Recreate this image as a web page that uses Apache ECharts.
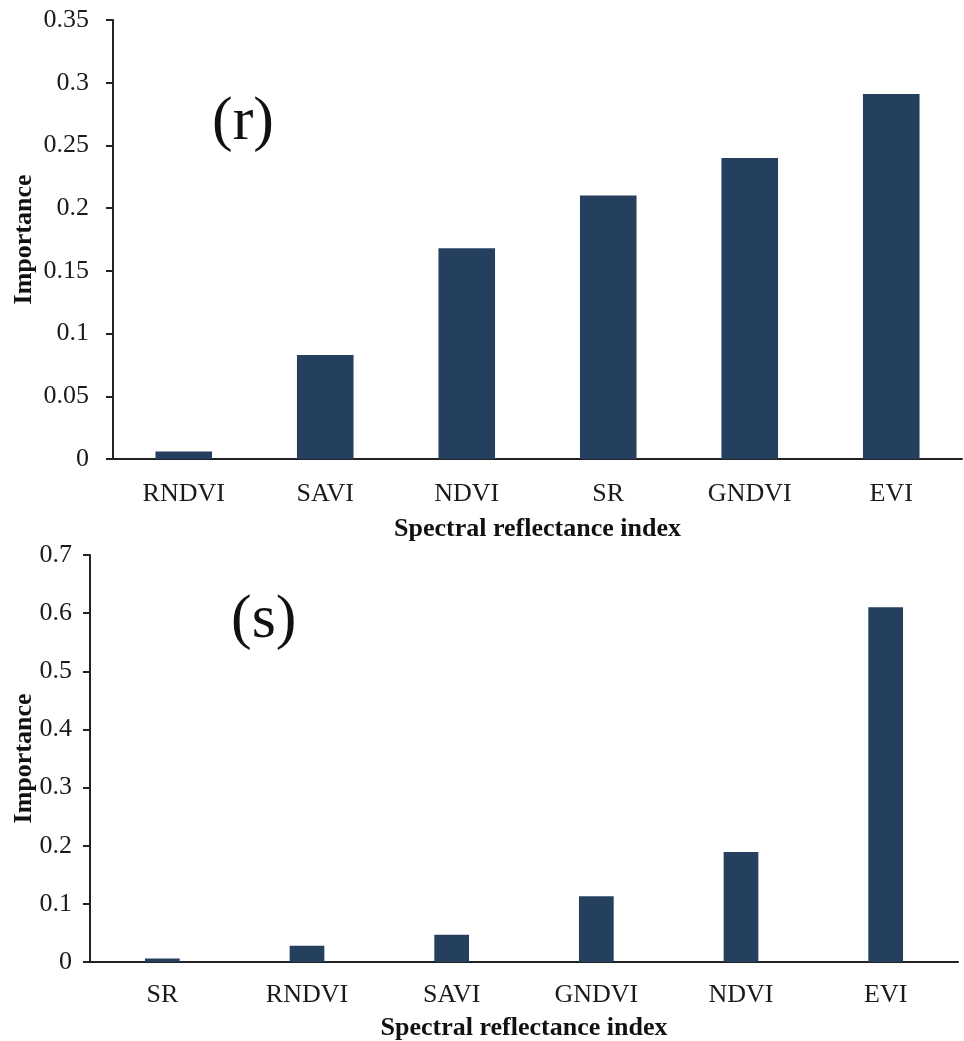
<!DOCTYPE html>
<html>
<head>
<meta charset="utf-8">
<script src="https://cdn.jsdelivr.net/npm/echarts@6/dist/echarts.min.js"></script>
<style>
html,body{margin:0;padding:0;background:#fff;}
#c{width:964px;height:1041px;}
</style>
</head>
<body>
<div id="c"></div>
<script>
const catsR = ['RNDVI', 'SAVI', 'NDVI', 'SR', 'GNDVI', 'EVI'];
const valsR = [0.006, 0.083, 0.168, 0.21, 0.24, 0.291];
const catsS = ['SR', 'RNDVI', 'SAVI', 'GNDVI', 'NDVI', 'EVI'];
const valsS = [0.006, 0.028, 0.047, 0.113, 0.189, 0.61];
const xTitle = 'Spectral reflectance index';
const yTitle = 'Importance';

const FONT = '"Liberation Serif", "Times New Roman", serif';
const BAR = '#253F5F';
const AX = '#222';

const chart = echarts.init(document.getElementById('c'), null, {renderer: 'canvas'});

function xAx(gi, cats, margin, gap) {
  return {
    type: 'category', gridIndex: gi, data: cats,
    axisLine: {lineStyle: {color: AX, width: 2}},
    axisTick: {show: false},
    axisLabel: {fontFamily: FONT, fontSize: 26, color: '#1a1a1a', margin: margin},
    name: xTitle, nameLocation: 'middle', nameGap: gap, nameMoveOverlap: false,
    nameTextStyle: {fontFamily: FONT, fontSize: 26, fontWeight: 'bold', color: '#111'}
  };
}
function yAx(gi, max, interval, gap, margin) {
  return {
    type: 'value', gridIndex: gi, min: 0, max: max, interval: interval,
    splitLine: {show: false},
    axisLine: {show: true, lineStyle: {color: AX, width: 2}},
    axisTick: {show: true, length: 7, lineStyle: {color: AX, width: 2}},
    axisLabel: {fontFamily: FONT, fontSize: 26, color: '#1a1a1a', margin: margin},
    name: yTitle, nameLocation: 'middle', nameGap: gap, nameRotate: 90, nameMoveOverlap: false,
    nameTextStyle: {fontFamily: FONT, fontSize: 26, fontWeight: 'bold', color: '#111'}
  };
}

chart.setOption({
  animation: false,
  backgroundColor: '#fff',
  grid: [
    {left: 113, right: 2, top: 20, height: 439, containLabel: false, outerBoundsMode: 'none'},
    {left: 90, right: 6, top: 555, height: 407, containLabel: false, outerBoundsMode: 'none'}
  ],
  xAxis: [xAx(0, catsR, 22, 57), xAx(1, catsS, 20, 53)],
  yAxis: [yAx(0, 0.35, 0.05, 76, 24), yAx(1, 0.7, 0.1, 53, 18)],
  series: [
    {type: 'bar', xAxisIndex: 0, yAxisIndex: 0, data: valsR, barWidth: '40%',
     itemStyle: {color: BAR}},
    {type: 'bar', xAxisIndex: 1, yAxisIndex: 1, data: valsS, barWidth: '24%',
     itemStyle: {color: BAR}}
  ],
  graphic: [
    {type: 'text', left: 212, top: 92,
     style: {text: '(r)', font: '62px ' + FONT, fill: '#111'}},
    {type: 'text', left: 231, top: 590,
     style: {text: '(s)', font: '62px ' + FONT, fill: '#111'}}
  ]
});
</script>
</body>
</html>
